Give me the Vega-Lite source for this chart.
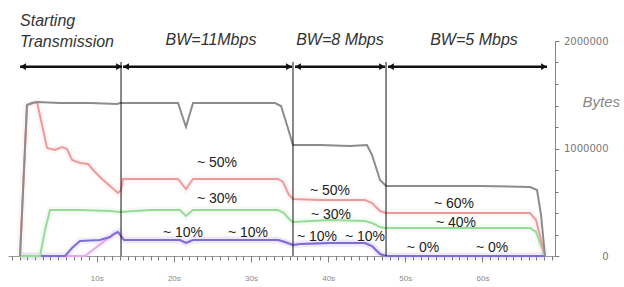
{
  "$schema": "https://vega.github.io/schema/vega-lite/v6.json",
  "width": 547,
  "height": 215,
  "autosize": {"type": "none"},
  "padding": {"left": 8, "top": 41, "right": 69, "bottom": 31},
  "background": "white",
  "config": {"view": {"stroke": null}, "font": "Liberation Sans"},
  "datasets": {
    "flows": [
      {"series": "Total", "t": 0.06, "v": 0},
      {"series": "Total", "t": 0.96, "v": 1404600},
      {"series": "Total", "t": 1.61, "v": 1423200},
      {"series": "Total", "t": 2.26, "v": 1432500},
      {"series": "Total", "t": 5.24, "v": 1423200},
      {"series": "Total", "t": 9.13, "v": 1423200},
      {"series": "Total", "t": 12.63, "v": 1413900},
      {"series": "Total", "t": 13.02, "v": 1423200},
      {"series": "Total", "t": 16.91, "v": 1423200},
      {"series": "Total", "t": 20.54, "v": 1423200},
      {"series": "Total", "t": 21.57, "v": 1200000},
      {"series": "Total", "t": 22.48, "v": 1423200},
      {"series": "Total", "t": 27.28, "v": 1423200},
      {"series": "Total", "t": 33.11, "v": 1423200},
      {"series": "Total", "t": 33.89, "v": 1395300},
      {"series": "Total", "t": 34.66, "v": 1218600},
      {"series": "Total", "t": 35.44, "v": 1032500},
      {"series": "Total", "t": 38.94, "v": 1032500},
      {"series": "Total", "t": 42.83, "v": 1023200},
      {"series": "Total", "t": 45.03, "v": 1032500},
      {"series": "Total", "t": 45.68, "v": 939500},
      {"series": "Total", "t": 46.72, "v": 707000},
      {"series": "Total", "t": 47.5, "v": 651100},
      {"series": "Total", "t": 51.9, "v": 651100},
      {"series": "Total", "t": 59.68, "v": 651100},
      {"series": "Total", "t": 66.16, "v": 641800},
      {"series": "Total", "t": 67.07, "v": 613900},
      {"series": "Total", "t": 67.59, "v": 381400},
      {"series": "Total", "t": 68.1, "v": 0},

      {"series": "Flow 4", "t": 0.06, "v": 0},
      {"series": "Flow 4", "t": 8.48, "v": 0},
      {"series": "Flow 4", "t": 12.37, "v": 213900},
      {"series": "Flow 4", "t": 12.76, "v": 223200},
      {"series": "Flow 4", "t": 13.15, "v": 186000},
      {"series": "Flow 4", "t": 13.54, "v": 148800},
      {"series": "Flow 4", "t": 16.91, "v": 148800},
      {"series": "Flow 4", "t": 20.79, "v": 148800},
      {"series": "Flow 4", "t": 21.57, "v": 120900},
      {"series": "Flow 4", "t": 22.48, "v": 148800},
      {"series": "Flow 4", "t": 27.28, "v": 148800},
      {"series": "Flow 4", "t": 33.5, "v": 148800},
      {"series": "Flow 4", "t": 34.4, "v": 130200},
      {"series": "Flow 4", "t": 35.44, "v": 102300},
      {"series": "Flow 4", "t": 36.35, "v": 111600},
      {"series": "Flow 4", "t": 40.24, "v": 120900},
      {"series": "Flow 4", "t": 44.77, "v": 120900},
      {"series": "Flow 4", "t": 45.68, "v": 93000},
      {"series": "Flow 4", "t": 46.72, "v": 18600},
      {"series": "Flow 4", "t": 47.5, "v": 0},
      {"series": "Flow 4", "t": 68.1, "v": 0},

      {"series": "Flow 3", "t": 0.06, "v": 0},
      {"series": "Flow 3", "t": 5.89, "v": 0},
      {"series": "Flow 3", "t": 6.8, "v": 74400},
      {"series": "Flow 3", "t": 7.83, "v": 139500},
      {"series": "Flow 3", "t": 10.42, "v": 148800},
      {"series": "Flow 3", "t": 11.72, "v": 176700},
      {"series": "Flow 3", "t": 12.24, "v": 204600},
      {"series": "Flow 3", "t": 12.76, "v": 223200},
      {"series": "Flow 3", "t": 13.15, "v": 186000},
      {"series": "Flow 3", "t": 13.54, "v": 148800},
      {"series": "Flow 3", "t": 16.91, "v": 148800},
      {"series": "Flow 3", "t": 20.79, "v": 148800},
      {"series": "Flow 3", "t": 21.57, "v": 120900},
      {"series": "Flow 3", "t": 22.48, "v": 148800},
      {"series": "Flow 3", "t": 27.28, "v": 148800},
      {"series": "Flow 3", "t": 33.5, "v": 148800},
      {"series": "Flow 3", "t": 34.4, "v": 130200},
      {"series": "Flow 3", "t": 35.44, "v": 102300},
      {"series": "Flow 3", "t": 36.35, "v": 111600},
      {"series": "Flow 3", "t": 40.24, "v": 120900},
      {"series": "Flow 3", "t": 44.77, "v": 120900},
      {"series": "Flow 3", "t": 45.68, "v": 93000},
      {"series": "Flow 3", "t": 46.72, "v": 18600},
      {"series": "Flow 3", "t": 47.5, "v": 0},
      {"series": "Flow 3", "t": 68.1, "v": 0},

      {"series": "Flow 2", "t": 0.06, "v": 0},
      {"series": "Flow 2", "t": 2.65, "v": 0},
      {"series": "Flow 2", "t": 3.3, "v": 241900},
      {"series": "Flow 2", "t": 3.94, "v": 427900},
      {"series": "Flow 2", "t": 7.83, "v": 427900},
      {"series": "Flow 2", "t": 11.72, "v": 418600},
      {"series": "Flow 2", "t": 13.02, "v": 409300},
      {"series": "Flow 2", "t": 16.91, "v": 427900},
      {"series": "Flow 2", "t": 20.79, "v": 427900},
      {"series": "Flow 2", "t": 21.57, "v": 372100},
      {"series": "Flow 2", "t": 22.48, "v": 427900},
      {"series": "Flow 2", "t": 27.28, "v": 427900},
      {"series": "Flow 2", "t": 33.5, "v": 427900},
      {"series": "Flow 2", "t": 34.27, "v": 400000},
      {"series": "Flow 2", "t": 35.05, "v": 334900},
      {"series": "Flow 2", "t": 35.44, "v": 316300},
      {"series": "Flow 2", "t": 40.24, "v": 334900},
      {"series": "Flow 2", "t": 44.77, "v": 325600},
      {"series": "Flow 2", "t": 45.68, "v": 307000},
      {"series": "Flow 2", "t": 46.72, "v": 269800},
      {"series": "Flow 2", "t": 47.5, "v": 260500},
      {"series": "Flow 2", "t": 55.79, "v": 260500},
      {"series": "Flow 2", "t": 66.16, "v": 260500},
      {"series": "Flow 2", "t": 66.94, "v": 223200},
      {"series": "Flow 2", "t": 68.1, "v": 0},

      {"series": "Flow 1", "t": 0.06, "v": 0},
      {"series": "Flow 1", "t": 0.96, "v": 1404600},
      {"series": "Flow 1", "t": 2.26, "v": 1432500},
      {"series": "Flow 1", "t": 2.91, "v": 1218600},
      {"series": "Flow 1", "t": 3.56, "v": 1004600},
      {"series": "Flow 1", "t": 4.59, "v": 986000},
      {"series": "Flow 1", "t": 5.5, "v": 1013900},
      {"series": "Flow 1", "t": 6.15, "v": 995300},
      {"series": "Flow 1", "t": 6.8, "v": 893000},
      {"series": "Flow 1", "t": 7.83, "v": 865100},
      {"series": "Flow 1", "t": 8.87, "v": 855800},
      {"series": "Flow 1", "t": 9.78, "v": 781400},
      {"series": "Flow 1", "t": 10.81, "v": 707000},
      {"series": "Flow 1", "t": 11.72, "v": 651100},
      {"series": "Flow 1", "t": 12.76, "v": 586000},
      {"series": "Flow 1", "t": 13.15, "v": 613900},
      {"series": "Flow 1", "t": 13.41, "v": 716300},
      {"series": "Flow 1", "t": 16.91, "v": 716300},
      {"series": "Flow 1", "t": 20.54, "v": 716300},
      {"series": "Flow 1", "t": 21.57, "v": 623200},
      {"series": "Flow 1", "t": 22.48, "v": 716300},
      {"series": "Flow 1", "t": 27.28, "v": 716300},
      {"series": "Flow 1", "t": 33.5, "v": 716300},
      {"series": "Flow 1", "t": 34.14, "v": 688300},
      {"series": "Flow 1", "t": 34.92, "v": 567400},
      {"series": "Flow 1", "t": 35.44, "v": 530200},
      {"series": "Flow 1", "t": 38.94, "v": 520900},
      {"series": "Flow 1", "t": 44.77, "v": 520900},
      {"series": "Flow 1", "t": 45.68, "v": 493000},
      {"series": "Flow 1", "t": 46.72, "v": 418600},
      {"series": "Flow 1", "t": 47.5, "v": 400000},
      {"series": "Flow 1", "t": 55.79, "v": 400000},
      {"series": "Flow 1", "t": 66.16, "v": 400000},
      {"series": "Flow 1", "t": 66.94, "v": 334900},
      {"series": "Flow 1", "t": 68.1, "v": 0}
    ],
    "splits": [{"t": 13.15}, {"t": 35.44}, {"t": 47.5}],
    "arrows": [
      {"start": 0.06, "end": 13.28, "v": 1761000},
      {"start": 13.41, "end": 35.31, "v": 1761000},
      {"start": 35.7, "end": 47.37, "v": 1761000},
      {"start": 47.75, "end": 68.36, "v": 1761000}
    ],
    "leftHeads": [
      {"label": "Starting", "t": 0.06, "v": 2139500},
      {"label": "Transmission", "t": 0.06, "v": 1944100}
    ],
    "heads": [
      {"label": "BW=11Mbps", "t": 24.81, "v": 1967000},
      {"label": "BW=8 Mbps", "t": 41.53, "v": 1967000},
      {"label": "BW=5 Mbps", "t": 58.9, "v": 1967000}
    ],
    "pcts": [
      {"label": "~ 50%", "t": 25.59, "v": 827900},
      {"label": "~ 30%", "t": 25.59, "v": 493000},
      {"label": "~ 10%", "t": 21.18, "v": 176700},
      {"label": "~ 10%", "t": 29.61, "v": 176700},
      {"label": "~ 50%", "t": 40.24, "v": 567400},
      {"label": "~ 30%", "t": 40.37, "v": 344200},
      {"label": "~ 10%", "t": 38.55, "v": 139500},
      {"label": "~ 10%", "t": 44.77, "v": 139500},
      {"label": "~ 60%", "t": 56.31, "v": 446500},
      {"label": "~ 40%", "t": 56.57, "v": 269800},
      {"label": "~ 0%", "t": 52.29, "v": 37200},
      {"label": "~ 0%", "t": 61.24, "v": 37200}
    ],
    "dummy": [{"t": 0, "v": 0}]
  },
  "layer": [
    {
      "layer": [
        {
          "data": {"name": "flows"},
          "transform": [{"filter": "datum.series !== 'Total'"}],
          "mark": {"type": "line", "strokeWidth": 7, "opacity": 0.1},
          "encoding": {
            "x": {"field": "t", "type": "quantitative", "scale": {"domain": [-1.5, 69.4], "nice": false, "zero": false},
              "axis": {"orient": "bottom", "values": [10, 20, 30, 40, 50, 60], "labelExpr": "datum.value + 's'", "title": null, "grid": false,
                "domainColor": "#999", "tickColor": "#888", "tickSize": 6, "labelFontSize": 8, "labelColor": "#888", "labelPadding": 12, "labelFlush": false}},
            "y": {"field": "v", "type": "quantitative", "scale": {"domain": [0, 2000000], "nice": false, "zero": false},
              "axis": {"orient": "right", "values": [0, 1000000, 2000000], "format": "d", "grid": false,
                "domainColor": "#888", "tickColor": "#888", "tickSize": 4, "labelAlign": "right", "labelPadding": 49,
                "labelFont": "DejaVu Sans", "labelFontSize": 10, "labelColor": "#777",
                "title": "Bytes", "titleAngle": 0, "titleAlign": "left", "titleBaseline": "middle", "titleX": 27, "titleY": 60,
                "titleFontStyle": "italic", "titleFontWeight": "normal", "titleFontSize": 15, "titleColor": "#888", "titleFont": "Liberation Sans"}},
            "color": {"field": "series", "type": "nominal", "legend": null,
              "scale": {"domain": ["Total", "Flow 1", "Flow 2", "Flow 3", "Flow 4"], "range": ["#8c8c8c", "#ee9a9a", "#96dc96", "#7b6fd6", "#e6a6ee"]}}
          }
        },
        {
          "data": {"name": "flows"},
          "transform": [{"filter": "datum.series !== 'Total'"}],
          "mark": {"type": "line", "strokeWidth": 2},
          "encoding": {
            "x": {"field": "t", "type": "quantitative", "scale": {"domain": [-1.5, 69.4], "nice": false, "zero": false}},
            "y": {"field": "v", "type": "quantitative", "scale": {"domain": [0, 2000000], "nice": false, "zero": false}},
            "color": {"field": "series", "type": "nominal", "legend": null,
              "scale": {"domain": ["Total", "Flow 1", "Flow 2", "Flow 3", "Flow 4"], "range": ["#8c8c8c", "#ee9a9a", "#96dc96", "#7b6fd6", "#e6a6ee"]}}
          }
        },
        {
          "data": {"name": "flows"},
          "transform": [{"filter": "datum.series === 'Total'"}],
          "mark": {"type": "line", "strokeWidth": 2},
          "encoding": {
            "x": {"field": "t", "type": "quantitative", "scale": {"domain": [-1.5, 69.4], "nice": false, "zero": false}},
            "y": {"field": "v", "type": "quantitative", "scale": {"domain": [0, 2000000], "nice": false, "zero": false}},
            "color": {"field": "series", "type": "nominal", "legend": null,
              "scale": {"domain": ["Total", "Flow 1", "Flow 2", "Flow 3", "Flow 4"], "range": ["#8c8c8c", "#ee9a9a", "#96dc96", "#7b6fd6", "#e6a6ee"]}}
          }
        },
        {
          "data": {"name": "splits"},
          "mark": {"type": "rule", "color": "#111", "strokeWidth": 1},
          "encoding": {
            "x": {"field": "t", "type": "quantitative", "scale": {"domain": [-1.5, 69.4], "nice": false, "zero": false}},
            "y": {"datum": 1804600, "type": "quantitative", "scale": {"domain": [0, 2000000], "nice": false, "zero": false}},
            "y2": {"datum": 0}
          }
        },
        {
          "data": {"name": "arrows"},
          "mark": {"type": "rule", "color": "#111", "strokeWidth": 2.5},
          "encoding": {
            "x": {"field": "start", "type": "quantitative", "scale": {"domain": [-1.5, 69.4], "nice": false, "zero": false}},
            "x2": {"field": "end"},
            "y": {"field": "v", "type": "quantitative", "scale": {"domain": [0, 2000000], "nice": false, "zero": false}}
          }
        },
        {
          "data": {"name": "arrows"},
          "mark": {"type": "point", "shape": "triangle-left", "filled": true, "color": "#111", "size": 45, "opacity": 1, "xOffset": 3},
          "encoding": {
            "x": {"field": "start", "type": "quantitative", "scale": {"domain": [-1.5, 69.4], "nice": false, "zero": false}},
            "y": {"field": "v", "type": "quantitative", "scale": {"domain": [0, 2000000], "nice": false, "zero": false}}
          }
        },
        {
          "data": {"name": "arrows"},
          "mark": {"type": "point", "shape": "triangle-right", "filled": true, "color": "#111", "size": 45, "opacity": 1, "xOffset": -3},
          "encoding": {
            "x": {"field": "end", "type": "quantitative", "scale": {"domain": [-1.5, 69.4], "nice": false, "zero": false}},
            "y": {"field": "v", "type": "quantitative", "scale": {"domain": [0, 2000000], "nice": false, "zero": false}}
          }
        },
        {
          "data": {"name": "leftHeads"},
          "mark": {"type": "text", "align": "left", "baseline": "alphabetic", "fontSize": 16, "fontStyle": "italic", "color": "#333", "font": "Liberation Sans"},
          "encoding": {
            "x": {"field": "t", "type": "quantitative", "scale": {"domain": [-1.5, 69.4], "nice": false, "zero": false}},
            "y": {"field": "v", "type": "quantitative", "scale": {"domain": [0, 2000000], "nice": false, "zero": false}},
            "text": {"field": "label"}
          }
        },
        {
          "data": {"name": "heads"},
          "mark": {"type": "text", "align": "center", "baseline": "alphabetic", "fontSize": 16, "fontStyle": "italic", "color": "#333", "font": "Liberation Sans"},
          "encoding": {
            "x": {"field": "t", "type": "quantitative", "scale": {"domain": [-1.5, 69.4], "nice": false, "zero": false}},
            "y": {"field": "v", "type": "quantitative", "scale": {"domain": [0, 2000000], "nice": false, "zero": false}},
            "text": {"field": "label"}
          }
        },
        {
          "data": {"name": "pcts"},
          "mark": {"type": "text", "align": "center", "baseline": "alphabetic", "fontSize": 14, "color": "#222", "font": "Liberation Sans"},
          "encoding": {
            "x": {"field": "t", "type": "quantitative", "scale": {"domain": [-1.5, 69.4], "nice": false, "zero": false}},
            "y": {"field": "v", "type": "quantitative", "scale": {"domain": [0, 2000000], "nice": false, "zero": false}},
            "text": {"field": "label"}
          }
        }
      ]
    },
    {
      "data": {"name": "dummy"},
      "mark": {"type": "point", "opacity": 0},
      "encoding": {
        "x": {"field": "t", "type": "quantitative", "scale": {"domain": [-1.5, 69.4], "nice": false, "zero": false},
          "axis": {"orient": "bottom", "values": [-1, 0, 1, 2, 3, 4, 5, 6, 7, 8, 9, 10, 11, 12, 13, 14, 15, 16, 17, 18, 19, 20, 21, 22, 23, 24, 25, 26, 27, 28, 29, 30, 31, 32, 33, 34, 35, 36, 37, 38, 39, 40, 41, 42, 43, 44, 45, 46, 47, 48, 49, 50, 51, 52, 53, 54, 55, 56, 57, 58, 59, 60, 61, 62, 63, 64, 65, 66, 67, 68, 69],
            "labels": false, "domain": false, "grid": false, "title": null, "ticks": true, "tickSize": 4, "tickColor": "#777", "tickWidth": 1, "tickOpacity": 1}},
        "y": {"field": "v", "type": "quantitative", "scale": {"domain": [0, 2000000], "nice": false, "zero": false},
          "axis": {"orient": "right", "values": [0, 200000, 400000, 600000, 800000, 1000000, 1200000, 1400000, 1600000, 1800000, 2000000],
            "labels": false, "domain": false, "grid": false, "title": null, "ticks": true, "tickSize": 3, "tickColor": "#777", "tickWidth": 1, "tickOpacity": 1}}
      }
    }
  ],
  "resolve": {"axis": {"x": "independent", "y": "independent"}}
}
